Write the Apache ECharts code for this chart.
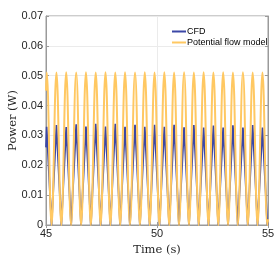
<!DOCTYPE html>
<html><head><meta charset="utf-8">
<script src="https://cdn.jsdelivr.net/npm/echarts@6/dist/echarts.min.js"></script>
<style>html,body{margin:0;padding:0;background:#fff}#c{width:278px;height:278px}</style>
</head><body><div id="c"></div>
<script>
// values
var seriesNames = ['CFD', 'Potential flow model'];
var xTicks = [45, 50, 55];
var yTicks = [0, 0.01, 0.02, 0.03, 0.04, 0.05, 0.06, 0.07];
var peakTimes = [45.03,45.47,45.91,46.36,46.80,47.24,47.68,48.12,48.56,49.01,49.45,49.89,50.33,50.77,51.22,51.66,52.10,52.54,52.98,53.42,53.87,54.31,54.75];
var troughTimes = [45.25,45.69,46.13,46.58,47.02,47.46,47.90,48.34,48.78,49.23,49.67,50.11,50.55,50.99,51.44,51.88,52.32,52.76,53.20,53.64,54.09,54.53,54.97];
var cfdPeaks = [0.0329,0.0335,0.0328,0.0337,0.0330,0.0339,0.0330,0.0339,0.0329,0.0336,0.0329,0.0336,0.0329,0.0336,0.0327,0.0335,0.0326,0.0333,0.0326,0.0334,0.0326,0.0335,0.0326];
var pfmPeaks = [0.0511,0.0511,0.0512,0.0511,0.0512,0.0511,0.0512,0.0511,0.0512,0.0511,0.0512,0.0511,0.0512,0.0511,0.0512,0.0511,0.0512,0.0511,0.0512,0.0511,0.0512,0.0511,0.0511];
var cfdTroughs = [0,0,0,0,0,0,0,0,0,0,0,0,0,0,0,0,0,0,0,0,0,0,0];
var pfmTroughs = [0,0,0,0,0,0,0,0,0,0,0,0,0,0,0,0,0,0,0,0,0,0,0];
var startTime = 45, endTime = 55;
var cfdStart = 0.026, cfdEnd = 0.001;
var pfmStart = 0.045, pfmEnd = 0.002;

function build(start, peaks, troughs, end) {
  var d = [[startTime, start]];
  for (var i = 0; i < peakTimes.length; i++) {
    d.push([peakTimes[i], peaks[i]]);
    d.push([troughTimes[i], troughs[i]]);
  }
  d.push([endTime, end]);
  return d;
}

var chart = echarts.init(document.getElementById('c'), null, {renderer: 'canvas'});
var axisCol = '#9a9a9a';
var txtCol = '#262626';
var sansFont = '"Liberation Sans", Arial, sans-serif';
var serifFont = '"DejaVu Serif", "Liberation Serif", serif';
chart.setOption({
  animation: false,
  backgroundColor: '#fff',
  grid: {left: 46, right: 10, top: 16, bottom: 53, show: true, borderColor: axisCol, borderWidth: 1,
         containLabel: false, outerBoundsMode: 'none'},
  legend: {
    data: seriesNames, orient: 'vertical', left: 167, top: 22, itemGap: 2,
    itemWidth: 14, itemHeight: 2, icon: 'rect',
    textStyle: {fontFamily: sansFont, fontSize: 9, color: '#000', padding: [0,0,0,-4]}
  },
  xAxis: [{
    type: 'value', min: 45, max: 55, interval: 5,
    name: 'Time (s)', nameLocation: 'middle', nameGap: 19, nameMoveOverlap: false,
    nameTextStyle: {fontFamily: serifFont, fontSize: 11.5, color: txtCol},
    axisLine: {show: true, lineStyle: {color: axisCol}},
    axisTick: {inside: true, length: 3, lineStyle: {color: axisCol}},
    axisLabel: {fontFamily: sansFont, fontSize: 11, color: txtCol, margin: 3,
      formatter: function(v){ return xTicks.indexOf(v) >= 0 ? String(v) : ''; }},
    splitLine: {show: true, lineStyle: {color: '#ebebeb', width: 1}}
  }, {
    type: 'value', min: 45, max: 55, interval: 5, position: 'top',
    axisLine: {show: true, lineStyle: {color: axisCol}},
    axisTick: {inside: true, length: 3, lineStyle: {color: axisCol}},
    axisLabel: {show: false}, splitLine: {show: false}
  }],
  yAxis: [{
    type: 'value', min: 0, max: 0.07, interval: 0.01,
    name: 'Power (W)', nameLocation: 'middle', nameGap: 27, nameMoveOverlap: false,
    nameTextStyle: {fontFamily: serifFont, fontSize: 11.5, color: txtCol},
    axisLine: {show: true, lineStyle: {color: axisCol}},
    axisTick: {inside: true, length: 3, lineStyle: {color: axisCol}},
    axisLabel: {fontFamily: sansFont, fontSize: 11, color: txtCol, margin: 3,
      formatter: function(v){
        for (var i = 0; i < yTicks.length; i++) if (Math.abs(yTicks[i]-v) < 1e-9) return i === 0 ? '0' : yTicks[i].toFixed(2);
        return '';
      }},
    splitLine: {show: true, lineStyle: {color: '#ebebeb', width: 1}}
  }, {
    type: 'value', min: 0, max: 0.07, interval: 0.01, position: 'right',
    axisLine: {show: true, lineStyle: {color: axisCol}},
    axisTick: {inside: true, length: 3, lineStyle: {color: axisCol}},
    axisLabel: {show: false}, splitLine: {show: false}
  }],
  series: [{
    name: seriesNames[0], type: 'line', showSymbol: false, smooth: false,
    data: build(cfdStart, cfdPeaks, cfdTroughs, cfdEnd),
    lineStyle: {color: '#3b47a6', width: 1.8}, itemStyle: {color: '#3b47a6'}, z: 2
  }, {
    name: seriesNames[1], type: 'line', showSymbol: false, smooth: 0.4,
    data: build(pfmStart, pfmPeaks, pfmTroughs, pfmEnd),
    lineStyle: {color: '#ffc862', width: 2}, itemStyle: {color: '#ffc862'}, z: 3
  }]
});
</script></body></html>
